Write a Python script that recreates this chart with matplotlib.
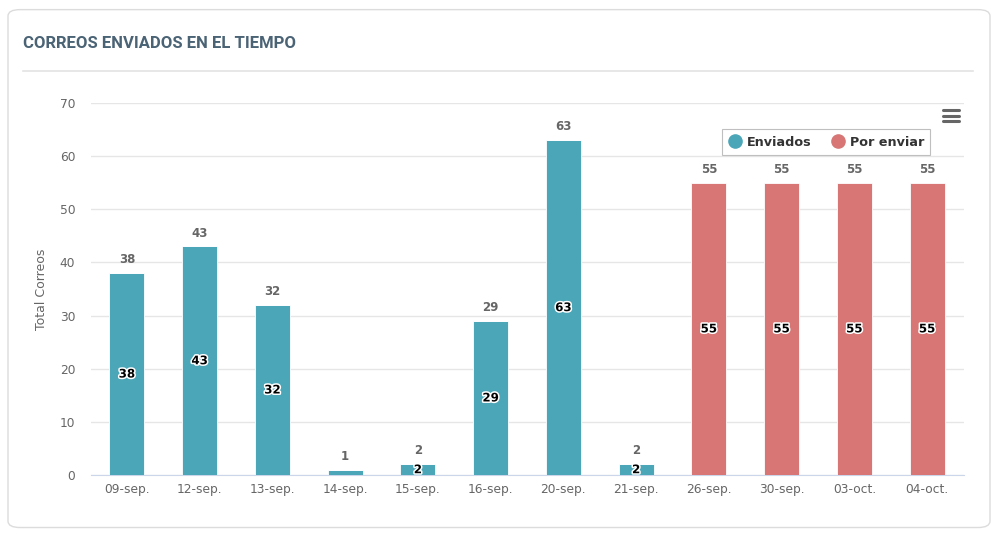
import matplotlib
matplotlib.use("Agg")
import matplotlib.pyplot as plt
import matplotlib.patheffects as pe
from matplotlib.patches import FancyBboxPatch
from matplotlib.lines import Line2D
import numpy as np

# datos
fechas = ['09-sep.', '12-sep.', '13-sep.', '14-sep.', '15-sep.', '16-sep.',
          '20-sep.', '21-sep.', '26-sep.', '30-sep.', '03-oct.', '04-oct.']
enviados = [38, 43, 32, 1, 2, 29, 63, 2, 0, 0, 0, 0]
por_enviar = [0, 0, 0, 0, 0, 0, 0, 0, 55, 55, 55, 55]

c_env = '#4ba6b8'
c_por = '#d77674'
gris = '#666666'

plt.rcParams['font.family'] = ['DejaVu Sans']

fig = plt.figure(figsize=(10, 5.35), dpi=100)

# tarjeta
card = FancyBboxPatch((0.008, 0.014), 0.982, 0.968,
                      boxstyle='round,pad=0,rounding_size=0.012',
                      transform=fig.transFigure, facecolor='white',
                      edgecolor='#dcdcdc', linewidth=1.0, zorder=-5)
fig.patches.append(card)
fig.text(0.023, 0.919, 'CORREOS ENVIADOS EN EL TIEMPO', fontsize=12,
         fontweight='bold', color='#4a6375', family=['Roboto', 'DejaVu Sans'],
         va='center', ha='left')
fig.add_artist(Line2D([0.023, 0.973], [0.867, 0.867], transform=fig.transFigure,
                      color='#e3e3e3', linewidth=1.2))

ax = fig.add_axes([0.0905, 0.1121, 0.873, 0.6954])
ax.patch.set_alpha(0)
x = np.arange(len(fechas))
env = np.array(enviados)
por = np.array(por_enviar)

ax.bar(x, env, width=0.48, color=c_env, edgecolor='white', linewidth=0.6,
       label='Enviados', zorder=3)
ax.bar(x, por, width=0.48, bottom=env, color=c_por, edgecolor='white',
       linewidth=0.6, label='Por enviar', zorder=3)

stroke = [pe.withStroke(linewidth=2.2, foreground='white')]
for i in range(len(fechas)):
    for base, v in ((0, env[i]), (env[i], por[i])):
        if v >= 2:
            ax.text(x[i], base + v / 2, str(v), ha='center', va='center',
                    fontsize=8.5, fontweight='bold', color='black',
                    path_effects=stroke, zorder=5)
    total = env[i] + por[i]
    ax.annotate(str(total), (x[i], total), xytext=(0, 5),
                textcoords='offset points', ha='center', va='bottom',
                fontsize=8.5, fontweight='bold', color=gris)

ax.set_xlim(-0.5, len(fechas) - 0.5)
ax.set_ylim(0, 70)
ax.set_yticks(range(0, 71, 10))
ax.set_xticks(x)
ax.set_xticklabels(fechas)
ax.tick_params(axis='both', length=0, labelsize=8.8, colors=gris)
ax.tick_params(axis='y', pad=11)
ax.tick_params(axis='x', pad=6)
ax.yaxis.grid(True, color='#e6e6e6', linewidth=1, zorder=0)
ax.set_axisbelow(True)
for s in ax.spines.values():
    s.set_visible(False)
ax.spines['bottom'].set_visible(True)
ax.spines['bottom'].set_color('#ccd6eb')
ax.set_ylabel('Total Correos', fontsize=9, color=gris, labelpad=8)

# leyenda con marcadores circulares
handles = [Line2D([], [], marker='o', linestyle='', markersize=9.5,
                  markerfacecolor=c, markeredgecolor=c) for c in (c_env, c_por)]
leg = ax.legend(handles, ['Enviados', 'Por enviar'], loc='upper right',
                bbox_to_anchor=(0.9695, 0.946), ncol=2, frameon=True,
                fontsize=9.2, handlelength=1.0, columnspacing=1.6,
                handletextpad=0.4, borderpad=0.5, fancybox=False)
leg.get_frame().set_edgecolor('#b0b0b0')
leg.get_frame().set_linewidth(0.8)
for t in leg.get_texts():
    t.set_color('#333333')
    t.set_fontweight('bold')

# icono de menu
for yy in (0.794, 0.784, 0.774):
    fig.add_artist(Line2D([0.943, 0.959], [yy, yy], transform=fig.transFigure,
                          color='#666666', linewidth=2.2,
                          solid_capstyle='round'))

fig.savefig('out.png', dpi=100)
